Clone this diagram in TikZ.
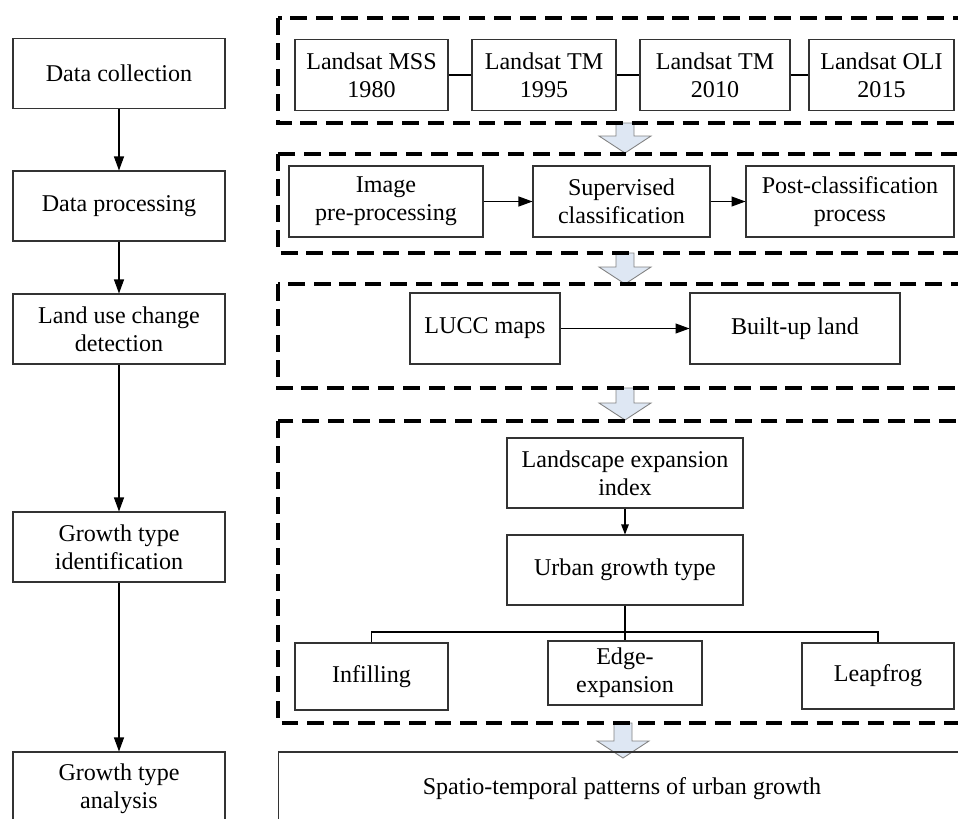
\documentclass[tikz,border=0pt]{standalone}
\usepackage{fontspec}
\setmainfont{Liberation Serif}
\usetikzlibrary{arrows.meta}

\definecolor{arrowfill}{RGB}{222,231,243}
\definecolor{arrowline}{RGB}{130,130,130}

% block arrow between two dashed groups: x, top, tip
\newcommand{\blockarrow}[3]{%
  \filldraw[bigarrow] ({#1-9},#2) -- ({#1-9},{#3-17}) -- ({#1-26},{#3-17}) -- (#1,#3)
    -- ({#1+26},{#3-17}) -- ({#1+9},{#3-17}) -- ({#1+9},#2) -- cycle;}

\begin{document}
\begin{tikzpicture}[
    x=0.02cm, y=-0.02cm,
    font=\fontsize{13.7}{16}\selectfont,
    box/.style={draw=black!80, line width=0.6pt, align=center, inner sep=1pt},
    stage/.style={box, minimum width=4.24cm, minimum height=1.4cm},
    group/.style={draw, line width=2pt, dash pattern=on 9.5pt off 5pt},
    link/.style={line width=0.6pt},
    flow/.style={link, -{Triangle[length=0.28cm, width=0.2cm]}},
    smallflow/.style={link, -{Triangle[length=0.2cm, width=0.15cm]}},
    bigarrow/.style={fill=arrowfill, draw=arrowline, line width=0.5pt},
  ]
    \useasboundingbox (0,0) rectangle (958,819);
    \clip (0,0) rectangle (958,819);

    % Left column: steps
    \node[stage] (collect) at (119,73.5) {Data collection};
    \node[stage] (process) at (119,206) {Data processing};
    \node[stage] (detect) at (119,329) {Land use change\\detection};
    \node[stage] (identify) at (119,547) {Growth type\\identification};
    \node[stage, minimum height=1.48cm] (analyse) at (119,789) {Growth type\\analysis};

    \draw[flow] (collect.south) -- (process.north);
    \draw[flow] (process.south) -- (detect.north);
    \draw[flow] (detect.south) -- (identify.north);
    \draw[flow] (identify.south) -- (analyse.north);

    % Block arrows between groups
    \blockarrow{625}{123}{153}
    \blockarrow{625}{253}{284}
    \blockarrow{625}{388}{420}
    \blockarrow{623}{723}{758}

    % Group 1: images
    \draw[group] (278,18) rectangle (990,123);
    \node[box, minimum width=3.06cm, minimum height=1.42cm] (mss) at (371.5,75) {Landsat MSS\\1980};
    \node[box, minimum width=2.88cm, minimum height=1.42cm] (tm95) at (544,75) {Landsat TM\\1995};
    \node[box, minimum width=3.0cm, minimum height=1.42cm] (tm10) at (715,75) {Landsat TM\\2010};
    \node[box, minimum width=2.9cm, minimum height=1.42cm] (oli) at (881.5,75) {Landsat OLI\\2015};
    \draw[link] (mss) -- (tm95);
    \draw[link] (tm95) -- (tm10);
    \draw[link] (tm10) -- (oli);

    % Group 2: processing
    \draw[group] (278,154) rectangle (990,253);
    \node[box, minimum width=3.88cm, minimum height=1.42cm] (prep) at (386,201.5) {Image\\pre-processing};
    \node[box, minimum width=3.54cm, minimum height=1.42cm] (supervised) at (621.5,201.5) {Supervised\\classification};
    \node[box, minimum width=4.16cm, minimum height=1.42cm] (post) at (850,201.5) {Post-classification\\process};
    \draw[flow] (prep) -- (supervised);
    \draw[flow] (supervised) -- (post);

    % Group 3: change detection
    \draw[group] (278,284) rectangle (990,388);
    \node[box, minimum width=3.0cm, minimum height=1.42cm] (lucc) at (485,328.5) {LUCC maps};
    \node[box, minimum width=4.2cm, minimum height=1.42cm] (builtup) at (795,328.5) {Built-up land};
    \draw[flow] (lucc) -- (builtup);

    % Group 4: growth types
    \draw[group] (278,421) rectangle (990,723);
    \node[box, minimum width=4.72cm, minimum height=1.4cm] (lei) at (625,473) {Landscape expansion\\index};
    \node[box, minimum width=4.72cm, minimum height=1.4cm] (ugt) at (625,570) {Urban growth type};
    \draw[smallflow] (lei) -- (ugt);
    \node[box, minimum width=3.06cm, minimum height=1.34cm] (infill) at (371.5,676.5) {Infilling};
    \node[box, minimum width=3.08cm, minimum height=1.28cm] (edge) at (625,673) {Edge-\\expansion};
    \node[box, minimum width=3.04cm, minimum height=1.32cm] (leap) at (878,676) {Leapfrog};
    \coordinate (split) at (625,632);
    \draw[link] (ugt.south) -- (split) -- (edge.north);
    \draw[link] (infill.north) |- (split) -| (leap.north);

    % Result
    \node[box, minimum width=13.76cm, minimum height=1.48cm] (result) at (622,789) {Spatio-temporal patterns of urban growth};
\end{tikzpicture}
\end{document}
